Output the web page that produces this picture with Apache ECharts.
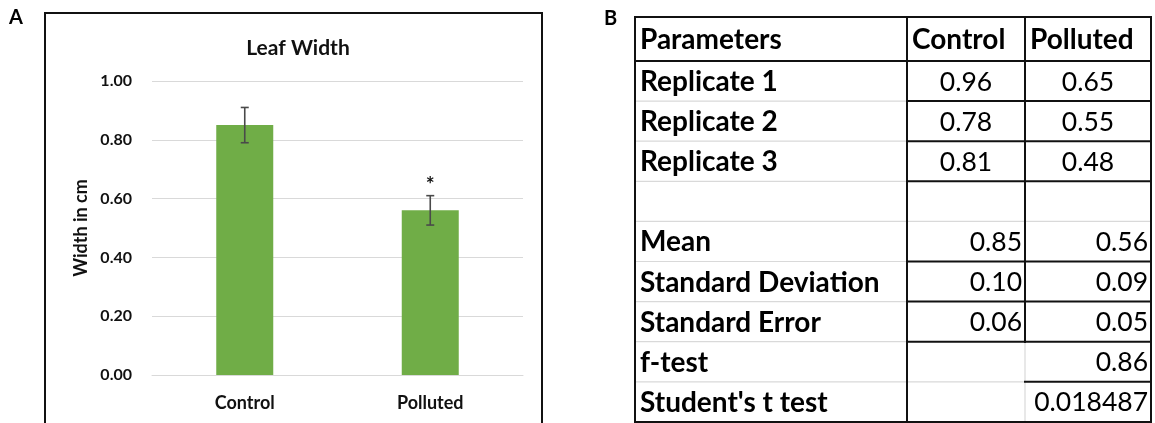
<!DOCTYPE html>
<html><head><meta charset="utf-8">
<script src="https://cdn.jsdelivr.net/npm/echarts@6/dist/echarts.min.js"></script>
<style>html,body{margin:0;padding:0;background:#fff}#c{width:1155px;height:423px}</style>
</head><body><div id="c"></div>
<script>
// ---------- data ----------
const categories = ['Control', 'Polluted'];
const meanWidth = [0.85, 0.56];
const stdError = [0.06, 0.05];
const significance = ['', '*'];
const yTickStep = 0.2;
const chartTitle = 'Leaf Width';
const yAxisName = 'Width in cm';

const tableHeader = ['Parameters', 'Control', 'Polluted'];
const rowLabels = ['Replicate 1', 'Replicate 2', 'Replicate 3', '', 'Mean', 'Standard Deviation', 'Standard Error', 'f-test', "Student's t test"];
const controlValues = ['0.96', '0.78', '0.81', '', '0.85', '0.10', '0.06', '', ''];
const pollutedValues = ['0.65', '0.55', '0.48', '', '0.56', '0.09', '0.05', '0.86', '0.018487'];

// ---------- layout / style ----------
const FONT = 'Lato';
const TXT = '#111';
const tbl = { left: 635, top: 17, width: 516, height: 405, colEdges: [0, 272, 390, 516], headerH: 44, rowH: 40.1 };
const rowEdges = [0, tbl.headerH];
for (let i = 1; i <= rowLabels.length; i++) rowEdges.push(tbl.headerH + i * tbl.rowH);
// border spec: k = black, g = light gray
const hSpec = ['kkk', 'kkk', 'gkk', 'gkk', 'gkk', 'ggg', 'gkk', 'gkk', 'gkk', 'ggk', 'kkk'];
const vSpec = ['kkkkkkkkkk', 'kkkkkkkkkk', 'kkkkkkkkgg', 'kkkkkkkkkk'];

const tableRows = [tableHeader].concat(rowLabels.map((l, i) => [l, controlValues[i], pollutedValues[i]]));
const cellData = [];
tableRows.forEach((row, r) => row.forEach((t, c) => cellData.push([c, r])));
const borderData = [];
hSpec.forEach((s, i) => s.split('').forEach((k, c) => borderData.push([0, i, c, k === 'k' ? 1 : 0])));
vSpec.forEach((s, i) => s.split('').forEach((k, r) => borderData.push([1, i, r, k === 'k' ? 1 : 0])));
borderData.sort((a, b) => a[3] - b[3]);

const chart = echarts.init(document.getElementById('c'));
const option = {
  animation: false,
  textStyle: { fontFamily: FONT },
  title: {
    text: chartTitle, left: 293, top: 33, textAlign: 'center',
    textStyle: { fontFamily: FONT, fontSize: 21, fontWeight: 'bold', color: TXT }
  },
  grid: [
    { left: 152, top: 81, width: 371, height: 294, outerBoundsMode: 'none' },
    { left: tbl.left, top: tbl.top, width: tbl.width, height: tbl.height, outerBoundsMode: 'none' }
  ],
  xAxis: [
    {
      type: 'category', data: categories, gridIndex: 0,
      axisLine: { lineStyle: { color: '#d9d9d9', width: 1 } },
      axisTick: { show: false },
      axisLabel: { margin: 19, fontSize: 18, fontWeight: 'bold', color: TXT, fontFamily: FONT }
    },
    { type: 'value', gridIndex: 1, min: 0, max: tbl.width, show: false }
  ],
  yAxis: [
    {
      type: 'value', gridIndex: 0, min: 0, max: 1, interval: yTickStep,
      axisLine: { show: false }, axisTick: { show: false },
      splitLine: { lineStyle: { color: '#d9d9d9', width: 1 } },
      axisLabel: { formatter: v => v.toFixed(2), margin: 20, fontSize: 16, fontWeight: 'bold', color: TXT, fontFamily: FONT },
      name: yAxisName, nameLocation: 'middle', nameGap: 62, nameRotate: 90,
      nameTextStyle: { fontSize: 18, fontWeight: 'bold', color: TXT, fontFamily: FONT }
    },
    { type: 'value', gridIndex: 1, min: 0, max: tbl.height, inverse: true, show: false }
  ],
  series: [
    {
      type: 'bar', data: meanWidth, barWidth: 57, xAxisIndex: 0, yAxisIndex: 0,
      itemStyle: { color: '#70ad47' }
    },
    {
      type: 'custom', xAxisIndex: 0, yAxisIndex: 0, z: 5,
      data: meanWidth.map((m, i) => [i, m, stdError[i]]),
      renderItem: (params, api) => {
        const x = api.value(0), m = api.value(1), e = api.value(2);
        const top = api.coord([x, m + e]), bot = api.coord([x, m - e]);
        const cap = 4;
        const st = { stroke: '#4a4a4a', lineWidth: 1.6 };
        const children = [
          { type: 'line', shape: { x1: top[0], y1: top[1], x2: bot[0], y2: bot[1] }, style: st },
          { type: 'line', shape: { x1: top[0] - cap, y1: top[1], x2: top[0] + cap, y2: top[1] }, style: st },
          { type: 'line', shape: { x1: bot[0] - cap, y1: bot[1], x2: bot[0] + cap, y2: bot[1] }, style: st }
        ];
        const s = significance[params.dataIndex];
        if (s) children.push({ type: 'text', x: top[0], y: top[1] - 10,
          style: { text: s, align: 'center', verticalAlign: 'middle', fontSize: 21, fontWeight: 'bold', fill: TXT, fontFamily: FONT } });
        return { type: 'group', children };
      }
    },
    {
      type: 'custom', xAxisIndex: 1, yAxisIndex: 1, z: 3, data: borderData,
      renderItem: (params, api) => {
        const kind = api.value(0), idx = api.value(1), seg = api.value(2), black = api.value(3);
        let p1, p2;
        if (kind === 0) {
          p1 = api.coord([tbl.colEdges[seg], rowEdges[idx]]);
          p2 = api.coord([tbl.colEdges[seg + 1], rowEdges[idx]]);
        } else {
          p1 = api.coord([tbl.colEdges[idx], rowEdges[seg]]);
          p2 = api.coord([tbl.colEdges[idx], rowEdges[seg + 1]]);
        }
        return { type: 'line', shape: { x1: p1[0], y1: p1[1], x2: p2[0], y2: p2[1] },
          style: { stroke: black ? '#111' : '#d9d9d9', lineWidth: black ? 2 : 1.2, lineCap: 'square' } };
      }
    },
    {
      type: 'custom', xAxisIndex: 1, yAxisIndex: 1, z: 4, data: cellData,
      renderItem: (params, api) => {
        const c = api.value(0), r = api.value(1);
        const t = tableRows[r][c];
        if (!t) return null;
        const a = api.coord([tbl.colEdges[c], rowEdges[r]]);
        const b = api.coord([tbl.colEdges[c + 1], rowEdges[r + 1]]);
        let align = 'left', x = a[0] + 5;
        if (r >= 1 && c > 0) {
          if (r <= 3) { align = 'center'; x = (a[0] + b[0]) / 2; }
          else { align = 'right'; x = b[0] - 3; }
        }
        const bold = r === 0 || c === 0;
        return { type: 'text', x, y: (a[1] + b[1]) / 2 + 1,
          style: { text: t, align, verticalAlign: 'middle',
          fontSize: bold ? 28 : 26.5, fontWeight: bold ? 'bold' : 'normal', fill: '#000', fontFamily: FONT } };
      }
    }
  ],
  graphic: [
    { type: 'rect', shape: { x: 45, y: 13, width: 497, height: 430 }, style: { fill: 'none', stroke: '#111', lineWidth: 2 }, z: 10 },
    { type: 'text', x: 9, y: 8, style: { text: 'A', fontSize: 20, fontWeight: 'bold', fill: '#000', fontFamily: FONT } },
    { type: 'text', x: 604, y: 9, style: { text: 'B', fontSize: 20, fontWeight: 'bold', fill: '#000', fontFamily: FONT } }
  ]
};
chart.setOption(option);
</script></body></html>
